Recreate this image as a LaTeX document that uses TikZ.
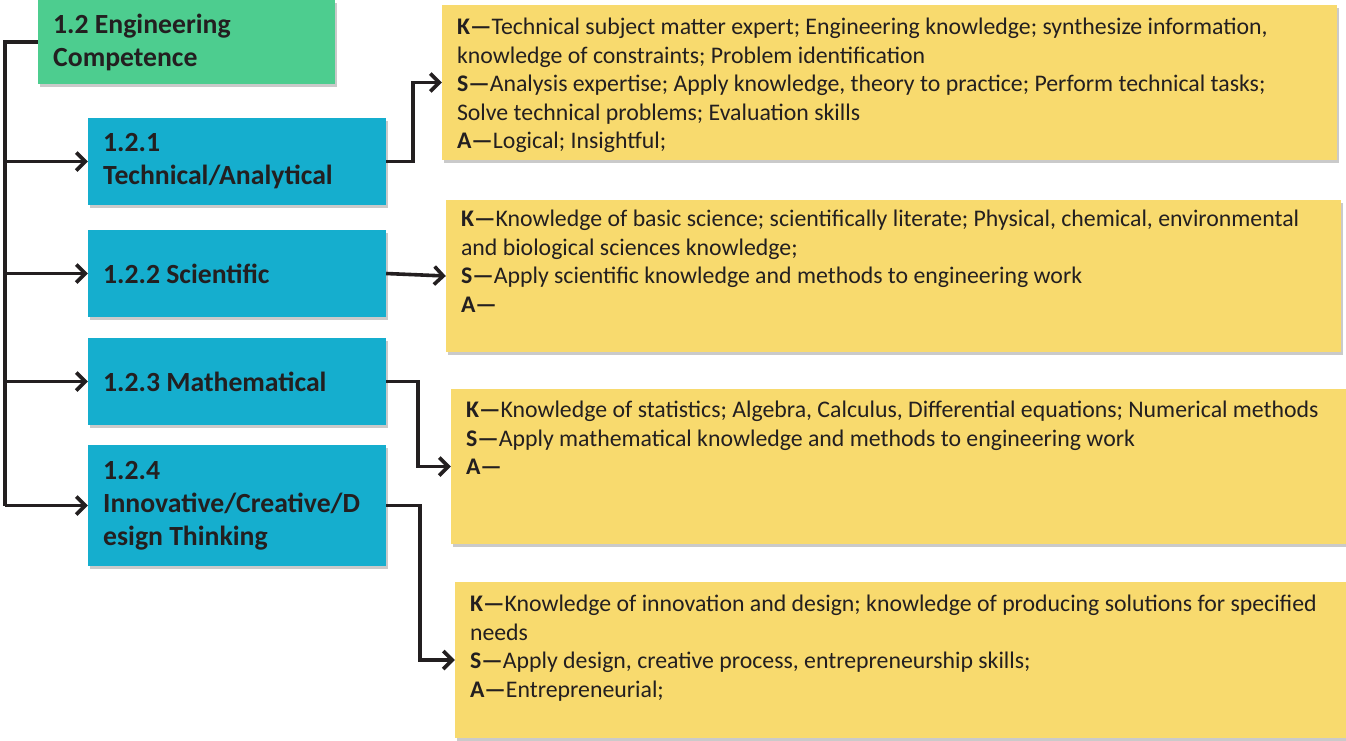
\documentclass[tikz,border=0pt]{standalone}
\usepackage{fontspec}
\setmainfont{Carlito}
\usetikzlibrary{arrows.meta,shadows,calc}
\definecolor{gbox}{RGB}{77,205,143}
\definecolor{bbox}{RGB}{21,174,206}
\definecolor{ybox}{RGB}{248,218,110}
\definecolor{ink}{RGB}{35,31,32}
\tikzset{
  x=1pt,y=-1pt,
  shade/.style={drop shadow={shadow xshift=1.5pt,shadow yshift=-2.5pt,opacity=0.35,fill=black!60}},
  greenbox/.style={fill=gbox,shade,minimum width=297pt,minimum height=84pt,inner sep=0pt},
  bluebox/.style={fill=bbox,shade,minimum width=298pt,inner sep=0pt},
  yellowbox/.style={fill=ybox,shade,inner sep=0pt},
  btext/.style={text=ink,font=\fontsize{27.7}{33}\selectfont\bfseries,align=left,inner sep=0pt,anchor=west},
  ytext/.style={text=ink,font=\fontsize{23.8}{28.5}\selectfont,align=left,inner sep=0pt,anchor=north west},
  conn/.style={draw=ink,line width=3.6pt,line join=miter},
  arr/.style={conn,-{Straight Barb[length=9pt,width=18pt,line width=3.6pt]}}
}
\begin{document}
\begin{tikzpicture}
\useasboundingbox (0,0) rectangle (1346,740);
% green
\node[greenbox] (g) at (186.5,42) {};
\node[btext] (gt) at (53,42) {1.2 Engineering\\Competence};
% blue
\node[bluebox,minimum height=87pt] (b1) at (237,161.5) {};
\node[btext] (b1t) at (103,161.5) {1.2.1\\Technical/Analytical};
\node[bluebox,minimum height=87pt] (b2) at (237,273.5) {};
\node[btext] (b2t) at (103,273.5) {1.2.2 Scientific};
\node[bluebox,minimum height=87pt] (b3) at (237,381.5) {};
\node[btext] (b3t) at (103,381.5) {1.2.3 Mathematical};
\node[bluebox,minimum height=121pt] (b4) at (237,505.5) {};
\node[btext] (b4t) at (103,505.5) {1.2.4\\Innovative/Creative/D\\esign Thinking};
% yellow
\node[yellowbox,minimum width=895pt,minimum height=155pt] (y1) at (889.5,82.5) {};
\node[ytext] (y1t) at ($(y1.north west)+(15,13)$) {\textbf{K—}Technical subject matter expert; Engineering knowledge; synthesize information,\\knowledge of constraints; Problem identification\\\textbf{S—}Analysis expertise; Apply knowledge, theory to practice; Perform technical tasks;\\Solve technical problems; Evaluation skills\\\textbf{A—}Logical; Insightful;};
\node[yellowbox,minimum width=895pt,minimum height=152pt] (y2) at (893.5,276) {};
\node[ytext] (y2t) at ($(y2.north west)+(15,10)$) {\textbf{K—}Knowledge of basic science; scientifically literate; Physical, chemical, environmental\\and biological sciences knowledge;\\\textbf{S—}Apply scientific knowledge and methods to engineering work\\\textbf{A—}};
\node[yellowbox,minimum width=900pt,minimum height=155pt] (y3) at (901,466.5) {};
\node[ytext] (y3t) at ($(y3.north west)+(15,12)$) {\textbf{K—}Knowledge of statistics; Algebra, Calculus, Differential equations; Numerical methods\\\textbf{S—}Apply mathematical knowledge and methods to engineering work\\\textbf{A—}};
\node[yellowbox,minimum width=900pt,minimum height=156pt] (y4) at (905,660) {};
\node[ytext] (y4t) at ($(y4.north west)+(15,13)$) {\textbf{K—}Knowledge of innovation and design; knowledge of producing solutions for specified\\needs\\\textbf{S—}Apply design, creative process, entrepreneurship skills;\\\textbf{A—}Entrepreneurial;};
% connectors
\coordinate (ttop) at (5,42);
\coordinate (tbot) at (5,505.5);
\draw[conn] (g.west) -- (ttop) -- (tbot);
\draw[arr] (ttop |- b1.west) -- (b1.west);
\draw[arr] (ttop |- b2.west) -- (b2.west);
\draw[arr] (ttop |- b3.west) -- (b3.west);
\draw[arr] (tbot) -- (b4.west);
\draw[arr] (b1.east) -- ++(27,0) |- (y1.west);
\draw[arr] (b2.east) -- (y2.west);
\draw[arr] (b3.east) -- ++(32,0) |- (y3.west);
\draw[arr] (b4.east) -- ++(34,0) |- (y4.west);
\end{tikzpicture}
\end{document}
